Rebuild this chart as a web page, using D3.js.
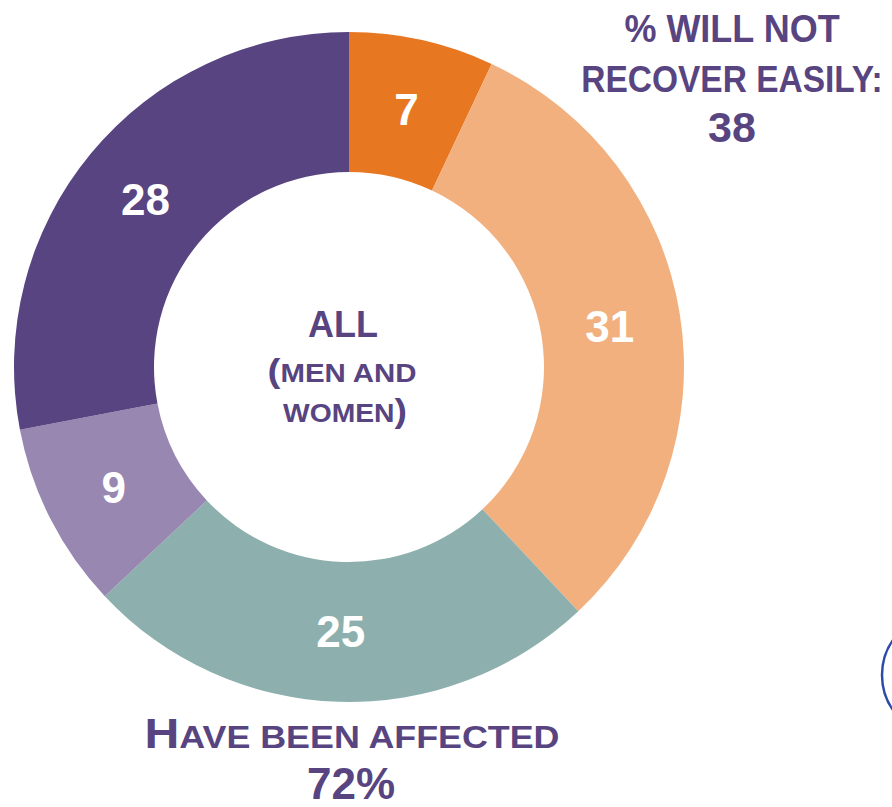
<!DOCTYPE html>
<html lang="en">
<head>
<meta charset="utf-8" />
<title>All (men and women)</title>
<style>
html, body {
	margin: 0;
	padding: 0;
	background: #fff;
}
svg {
	display: block;
}
text {
	font-family: "Liberation Sans", Arial, Helvetica, sans-serif;
	font-weight: bold;
	text-anchor: middle;
}
</style>
</head>
<body>
<svg></svg>

<script src="https://cdn.jsdelivr.net/npm/d3@7/dist/d3.min.js"></script>
<script>

// slices clockwise from 12 o'clock
var segments = ["seg1", "seg2", "seg3", "seg4", "seg5"];
var values   = [7, 31, 25, 9, 28];
var colors   = ["#e87722", "#f2b07e", "#8db0ae", "#9887b0", "#574480"];

var notRecoverLines = ["% WILL NOT", "RECOVER EASILY:", "38"];
var affectedLabel = "HAVE BEEN AFFECTED";
var affectedValue = "72%";

var w = 892, h = 807;
var purple = "#574480";

var svg = d3.select("svg").attr("width", w).attr("height", h);

var cx = 349, cy = 367;
var outerR = 335, innerR = 195;

var pie = d3.pie().sort(null).value(function(d){ return d.value; });
var arc = d3.arc().innerRadius(innerR).outerRadius(outerR);
var labelArc = d3.arc().innerRadius(264).outerRadius(264);

var data = segments.map(function(s, i){ return {key: s, value: values[i], color: colors[i]}; });

var stage = svg.append("g").attr("transform", "translate(" + [cx, cy] + ")");

var slices = stage.selectAll(".slice").data(pie(data)).enter().append("g").attr("class", "slice");

slices.append("path")
	.attr("d", arc)
	.attr("fill", function(d){ return d.data.color; });

slices.append("text")
	.attr("transform", function(d){ return "translate(" + labelArc.centroid(d) + ")"; })
	.attr("dy", "0.36em")
	.attr("fill", "#fff")
	.style("font-size", "44px")
	.text(function(d){ return d.data.value; });

// centre label
stage.append("text").attr("x", -6).attr("y", -30).attr("fill", purple)
	.style("font-size", "36px").text("ALL");
stage.append("text").attr("x", -7).attr("y", 15).attr("fill", purple)
	.attr("textLength", 149)
	.attr("lengthAdjust", "spacingAndGlyphs")
	.style("font-size", "25px")
	.call(function(t){
		t.append("tspan").style("font-size", "33px").text("(");
		t.append("tspan").text("MEN AND");
	});
stage.append("text").attr("x", -4).attr("y", 55).attr("fill", purple)
	.attr("textLength", 124)
	.attr("lengthAdjust", "spacingAndGlyphs")
	.style("font-size", "25px")
	.call(function(t){
		t.append("tspan").text("WOMEN");
		t.append("tspan").style("font-size", "33px").text(")");
	});

// top right note (drawn a bit taller than wide, like the original type)
var noteSizes = [36, 33.5, 43];
var noteScaleY = [1.08, 1.12, 1];
svg.selectAll(".note").data(notRecoverLines).enter().append("text")
	.attr("class", "note")
	.attr("transform", function(d, i){
		return "translate(" + [732, 42 + i * 50] + ") scale(1," + noteScaleY[i] + ")";
	})
	.attr("fill", purple)
	.style("font-size", function(d, i){ return noteSizes[i] + "px"; })
	.text(function(d){ return d; });

// bottom label
svg.append("text").attr("x", 352).attr("y", 748).attr("fill", purple)
	.attr("textLength", 415)
	.attr("lengthAdjust", "spacingAndGlyphs")
	.style("font-size", "32px")
	.call(function(t){
		t.append("tspan").style("font-size", "43px").text(affectedLabel.charAt(0));
		t.append("tspan").text(affectedLabel.slice(1));
	});
svg.append("text").attr("x", 351).attr("y", 799).attr("fill", purple)
	.style("font-size", "44px")
	.text(affectedValue);

// partial circle at right edge
svg.append("circle")
	.attr("cx", 943).attr("cy", 675).attr("r", 61)
	.attr("fill", "none")
	.attr("stroke", "#2e4aa8")
	.attr("stroke-width", 2.5);

</script>
</body>
</html>
